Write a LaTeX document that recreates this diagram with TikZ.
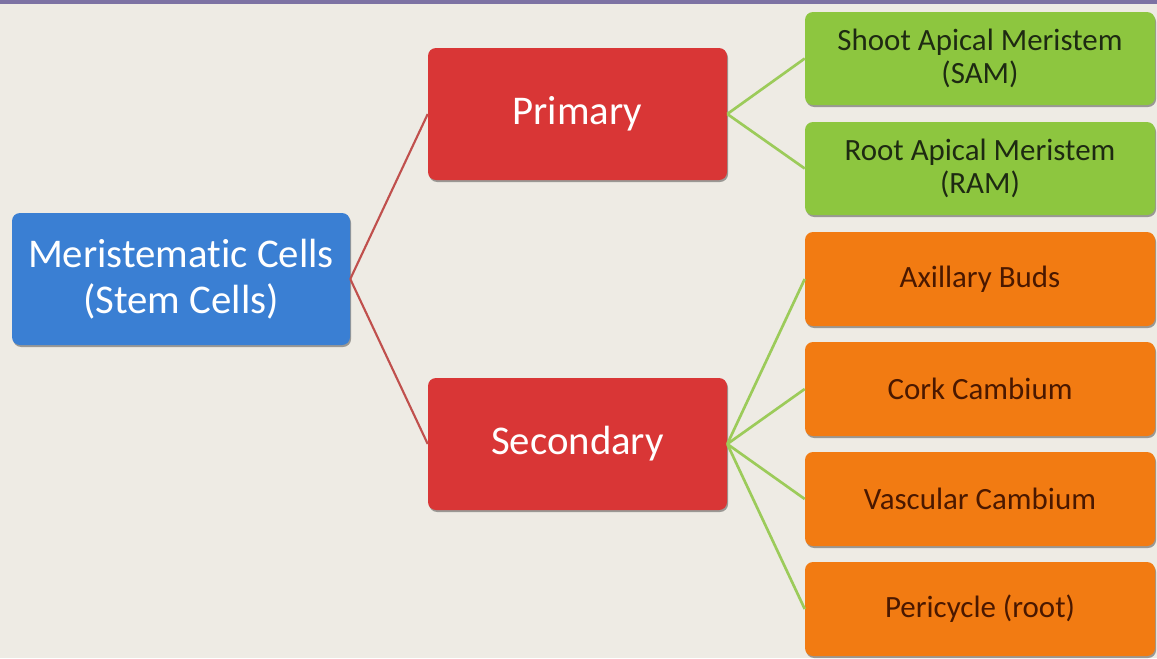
\documentclass[tikz,border=0pt]{standalone}
\usepackage{fontspec}
\setmainfont{Carlito}[RawFeature=-liga]
\usetikzlibrary{shadows}
\definecolor{bgc}{HTML}{EEEBE4}
\definecolor{topline}{HTML}{7D72A3}
\definecolor{bluec}{HTML}{3A7FD3}
\definecolor{redc}{HTML}{D93636}
\definecolor{greenc}{HTML}{8DC63F}
\definecolor{orangec}{HTML}{F27B12}
\definecolor{redline}{HTML}{C0504D}
\definecolor{greenline}{HTML}{9CCB5A}
\definecolor{greentext}{HTML}{1E2A12}
\definecolor{orangetext}{HTML}{4A1800}
\tikzset{
  box/.style={rectangle, rounded corners=6pt, inner sep=2pt, align=center,
    drop shadow={shadow xshift=0.8pt, shadow yshift=-1.5pt, opacity=0.35, fill=black}},
  rootbox/.style={box, fill=bluec, text=white, minimum width=253.5pt, minimum height=99pt,
    font=\fontsize{30.6}{34}\selectfont},
  midbox/.style={box, fill=redc, text=white, minimum width=224.25pt, minimum height=99pt,
    font=\fontsize{30.6}{34}\selectfont},
  greenbox/.style={box, fill=greenc, text=greentext, minimum width=262.5pt, minimum height=69.75pt,
    font=\fontsize{23.2}{25}\selectfont},
  orangebox/.style={box, fill=orangec, text=orangetext, minimum width=262.5pt, minimum height=70.5pt,
    font=\fontsize{23.2}{25}\selectfont},
  redconn/.style={draw=redline, line width=1.6pt},
  greenconn/.style={draw=greenline, line width=2pt},
}
\begin{document}
\begin{tikzpicture}[x=0.75pt, y=-0.75pt]
\fill[bgc] (0,0) rectangle (1157,658);
\useasboundingbox (0,0) rectangle (1157,658);
\fill[topline] (0,0) rectangle (1157,4);

\node[rootbox] (root) at (181,279) {Meristematic Cells\\(Stem Cells)};
\node[midbox] (prim) at (577.5,114) {Primary};
\node[midbox] (sec) at (577.5,444) {Secondary};

\node[greenbox] (sam) at (980,58.5) {Shoot Apical Meristem\\(SAM)};
\node[greenbox] (ram) at (980,168.5) {Root Apical Meristem\\(RAM)};

\node[orangebox] (axb) at (980,279) {Axillary Buds};
\node[orangebox] (cork) at (980,389) {Cork Cambium};
\node[orangebox] (vasc) at (980,499) {Vascular Cambium};
\node[orangebox] (peri) at (980,609) {Pericycle (root)};

\draw[redconn] (root.east) -- (prim.west);
\draw[redconn] (root.east) -- (sec.west);
\draw[greenconn] (prim.east) -- (sam.west);
\draw[greenconn] (prim.east) -- (ram.west);
\draw[greenconn] (sec.east) -- (axb.west);
\draw[greenconn] (sec.east) -- (cork.west);
\draw[greenconn] (sec.east) -- (vasc.west);
\draw[greenconn] (sec.east) -- (peri.west);
\end{tikzpicture}
\end{document}
